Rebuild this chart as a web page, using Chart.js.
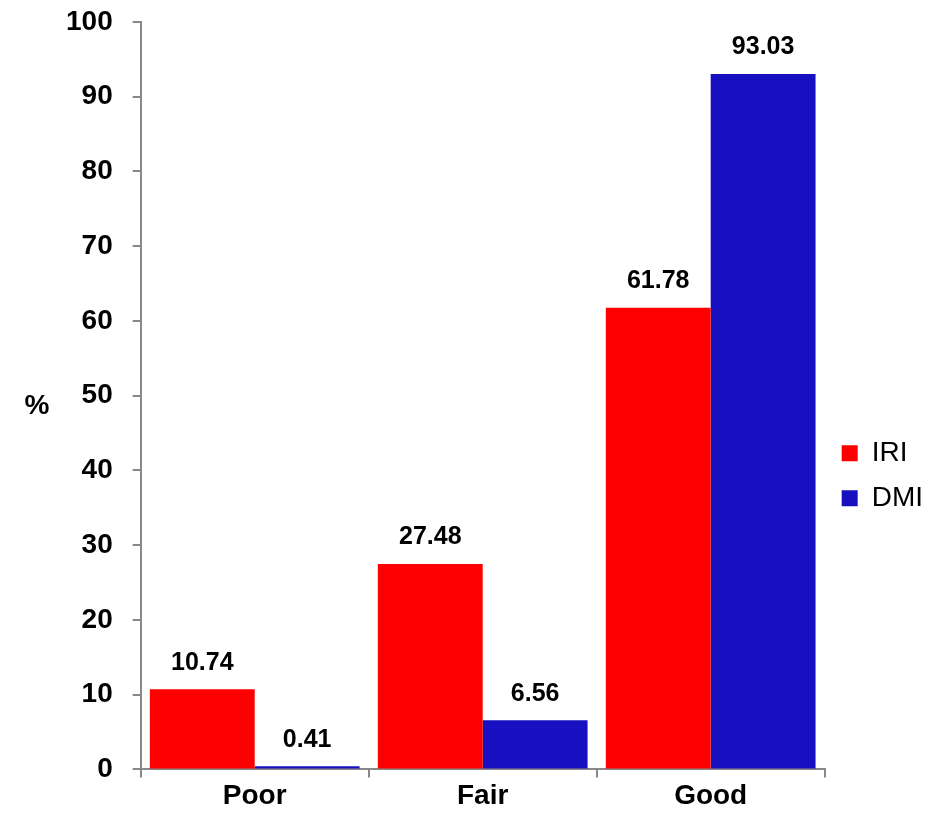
<!DOCTYPE html>
<html>
<head>
<meta charset="utf-8">
<script src="https://cdn.jsdelivr.net/npm/chart.js@4.4.1/dist/chart.umd.min.js"></script>
<style>
  html, body { margin: 0; padding: 0; background: #fff; }
  #wrap { width: 943px; height: 821px; }
</style>
</head>
<body>
<div id="wrap"><canvas id="grafico"></canvas></div>
<script>
// Datos del gráfico
const categorias = ["Poor", "Fair", "Good"];
const valoresIRI = [10.74, 27.48, 61.78];
const valoresDMI = [0.41, 6.56, 93.03];
const etiquetaY = "%";

// Plugin para escribir los valores encima de cada barra
const etiquetasBarras = {
    id: "etiquetasBarras",
    afterDatasetsDraw(chart) {
        const ctx = chart.ctx;
        ctx.save();
        ctx.font = "bold 25px 'Liberation Sans', Arial, sans-serif";
        ctx.fillStyle = "#000";
        ctx.textAlign = "center";
        ctx.textBaseline = "bottom";
        chart.data.datasets.forEach((ds, i) => {
            chart.getDatasetMeta(i).data.forEach((barra, j) => {
                ctx.fillText(ds.data[j].toFixed(2), barra.x, barra.y - 14);
            });
        });
        ctx.restore();
    }
};

// Plugin para el "%" horizontal a la izquierda
const tituloEje = {
    id: "tituloEje",
    afterDraw(chart) {
        const ctx = chart.ctx;
        ctx.save();
        ctx.font = "bold 28px 'Liberation Sans', Arial, sans-serif";
        ctx.fillStyle = "#000";
        ctx.textAlign = "center";
        ctx.textBaseline = "middle";
        ctx.fillText(etiquetaY, 37, 406);
        ctx.restore();
    }
};

new Chart(document.getElementById("grafico"), {
    type: "bar",
    data: {
        labels: categorias,
        datasets: [
            { label: "IRI", data: valoresIRI, backgroundColor: "#FF0000", borderWidth: 0 },
            { label: "DMI", data: valoresDMI, backgroundColor: "#1810C0", borderWidth: 0 }
        ]
    },
    options: {
        responsive: true,
        maintainAspectRatio: false,
        animation: false,
        datasets: { bar: { categoryPercentage: 0.92, barPercentage: 1.0 } },
        layout: { padding: { left: 46, top: 0, right: 10, bottom: 6 } },
        plugins: {
            tooltip: { enabled: false },
            legend: {
                position: "right",
                title: { display: true, text: " ", padding: { top: 72, bottom: 50 } },
                labels: {
                    boxWidth: 16,
                    boxHeight: 16,
                    padding: 17,
                    color: "#000",
                    font: { family: "'Liberation Sans', Arial, sans-serif", size: 28 }
                }
            }
        },
        scales: {
            x: {
                grid: { offset: true, drawOnChartArea: false, tickLength: 8, color: "#888", lineWidth: 2 },
                border: { color: "#888", width: 2 },
                ticks: {
                    color: "#000",
                    padding: 2,
                    font: { family: "'Liberation Sans', Arial, sans-serif", size: 28, weight: "bold" }
                }
            },
            y: {
                min: 0,
                max: 100,
                afterFit(escala) {
                    // el 100 queda casi pegado al borde superior
                    escala.paddingTop = 22;
                },
                grid: { drawOnChartArea: false, tickLength: 8, color: "#888", lineWidth: 2 },
                border: { color: "#888", width: 2 },
                ticks: {
                    stepSize: 10,
                    color: "#000",
                    padding: 20,
                    font: { family: "'Liberation Sans', Arial, sans-serif", size: 28, weight: "bold" }
                }
            }
        }
    },
    plugins: [etiquetasBarras, tituloEje]
});
</script>
</body>
</html>
